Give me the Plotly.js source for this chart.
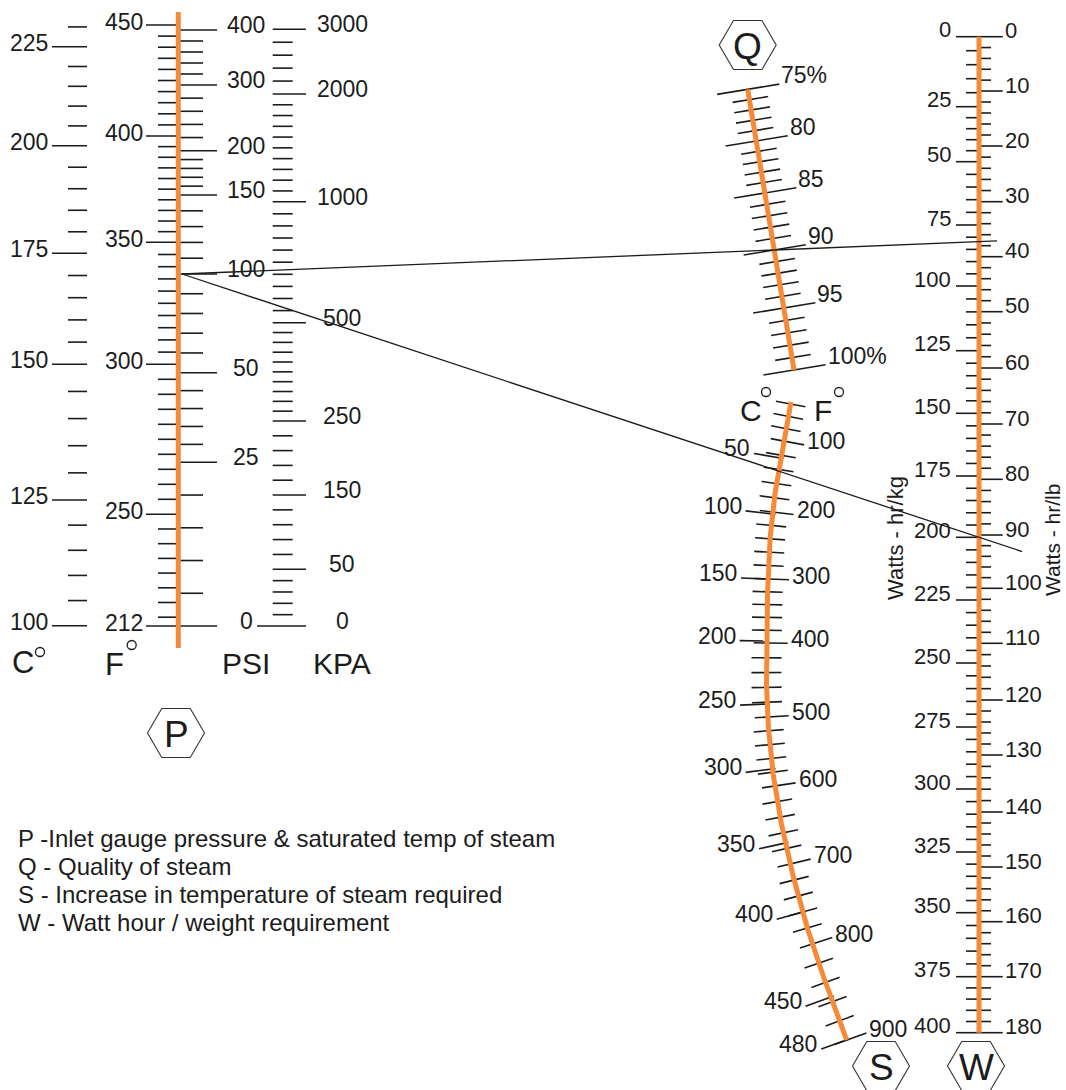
<!DOCTYPE html>
<html>
<head>
<meta charset="utf-8">
<script src="https://cdn.plot.ly/plotly-3.0.1.min.js"></script>
<style>
html,body{margin:0;padding:0;background:#ffffff;}
#chart{width:1066px;height:1090px;}
</style>
</head>
<body>
<div id="chart"></div>
<script>
// ================= DATA =================
// P scale : saturated temperature °C / °F, gauge pressure PSI / KPA
const pC_labels   = [225, 200, 175, 150, 125, 100];
const pC_tickEnds = [230, 100];          // minor ticks every 5 °C
const pC_step     = [5];
const pF_labels   = [450, 400, 350, 300, 250, 212];
const pF_steps    = [5, 5, 5, 5, 5];
const psi_labels  = [400, 300, 200, 150, 100, 50, 25, 0];
const psi_steps   = [20, 20, 10, 10, 10, 5, 5];
const kpa_labels  = [3000, 2000, 1000, 500, 250, 150, 50, 0];
const kpa_steps   = [200, 100, 50, 25, 20, 20, 10];

// Q scale : quality of steam
const q_labels     = [75, 80, 85, 90, 95, 100];
const q_labelTexts = ['75%', '80', '85', '90', '95', '100%'];
const q_step       = 1;

// S scale : increase in temperature (°C left, °F right)
const sC_labels   = [50, 100, 150, 200, 250, 300, 350, 400, 450, 480];
const sF_labels   = [100, 200, 300, 400, 500, 600, 700, 800, 900];
const sF_tickEnds = [40, 880];           // minor ticks every 20 °F
const sF_step     = [20];

// W scale : Watt-hour per weight
const wKg_labels  = [0, 25, 50, 75, 100, 125, 150, 175, 200, 225, 250, 275, 300, 325, 350, 375, 400];
const wKg_step    = 5;
const wLb_labels  = [0, 10, 20, 30, 40, 50, 60, 70, 80, 90, 100, 110, 120, 130, 140, 150, 160, 170, 180];
const wLb_step    = 2;

// Worked example drawn on the nomogram
const examplePsi     = 100;
const exampleQuality = 90;
const exampleWkg     = 200;

// Legend lines
const legendLines = [
  'P -Inlet gauge pressure & saturated temp of steam',
  'Q - Quality of steam',
  'S - Increase in temperature of steam required',
  'W - Watt hour / weight requirement'
];

// ================= SCALE CALIBRATION (page geometry of each nomogram scale) =================
const pC_pos  = [46.7, 145.7, 253.3, 364.3, 500, 625.7];
const pF_pos  = [25, 136, 242.3, 364.3, 514.3, 626];
const psi_pos = [30, 85, 150.7, 195, 274, 372.7, 462.3, 626];
const kpa_pos = [29.3, 94, 201.7, 322.7, 421, 495, 569.3, 626];
const q_pos   = [89.3, 141, 193, 250, 308, 370];
const sC_pos  = [458, 514, 579, 641, 704, 769, 843, 912, 997, 1040];
const sF_cal  = [40, 100, 200, 300, 400, 500, 600, 700, 800, 900];
const sF_pos  = [404, 441, 512, 579, 643, 717, 786, 864, 944, 1040];
const sCurveY = [402, 470, 540, 640, 713, 787, 863, 943, 1041];
const sCurveX = [791, 778.5, 770, 766.7, 767.5, 775, 790, 812, 847];
const wKg_pos = [36.7, 106.7, 161.7, 225, 286, 350.7, 413.3, 476, 537.3, 600, 663, 727, 789, 852, 912.7, 976.7, 1032.7];
const wLb_pos = [36.7, 91, 146, 201.7, 256.7, 311.7, 368, 424, 479.3, 535, 588.3, 643.3, 700, 755, 812, 867, 921.7, 976.7, 1032.7];

// ================= HELPERS =================
function interp(vals, pos, v) {
  const pr = vals.map((a, i) => [a, pos[i]]).sort((a, b) => a[0] - b[0]);
  const n = pr.length;
  let i = 0;
  if (v <= pr[0][0]) i = 0;
  else if (v >= pr[n - 1][0]) i = n - 2;
  else { while (!(v >= pr[i][0] && v <= pr[i + 1][0])) i++; }
  const [a0, b0] = pr[i], [a1, b1] = pr[i + 1];
  return b0 + (v - a0) * (b1 - b0) / (a1 - a0);
}
function stepTicks(ends, steps) {
  const out = [];
  for (let i = 0; i < ends.length - 1; i++) {
    const a = ends[i], b = ends[i + 1], s = steps[i] * Math.sign(b - a);
    for (let v = a; s > 0 ? v < b - 1e-9 : v > b + 1e-9; v += s) out.push(+v.toFixed(6));
  }
  out.push(ends[ends.length - 1]);
  return out;
}
function rangeTicks(a, b, s) { return stepTicks([a, b], [s]); }

// Hermite interpolation for the curved S scale: x as function of y
function sSlopes() {
  const n = sCurveY.length, m = [];
  for (let i = 0; i < n; i++) {
    if (i === 0) m.push((sCurveX[1] - sCurveX[0]) / (sCurveY[1] - sCurveY[0]));
    else if (i === n - 1) m.push((sCurveX[n - 1] - sCurveX[n - 2]) / (sCurveY[n - 1] - sCurveY[n - 2]));
    else m.push((sCurveX[i + 1] - sCurveX[i - 1]) / (sCurveY[i + 1] - sCurveY[i - 1]));
  }
  return m;
}
const sM = sSlopes();
function sX(y) {
  const n = sCurveY.length;
  let i = 0;
  if (y <= sCurveY[0]) i = 0;
  else if (y >= sCurveY[n - 1]) i = n - 2;
  else { while (!(y >= sCurveY[i] && y <= sCurveY[i + 1])) i++; }
  const h = sCurveY[i + 1] - sCurveY[i], t = (y - sCurveY[i]) / h;
  const t2 = t * t, t3 = t2 * t;
  return (2 * t3 - 3 * t2 + 1) * sCurveX[i] + (t3 - 2 * t2 + t) * h * sM[i]
       + (-2 * t3 + 3 * t2) * sCurveX[i + 1] + (t3 - t2) * h * sM[i + 1];
}
function sNormal(y) {
  const d = (sX(y + 0.5) - sX(y - 0.5));
  const L = Math.hypot(1, d);
  return [1 / L, -d / L];
}

const INK = '#1c1c1c';
const ORANGE = '#F68A38';
const FONT = 'Liberation Sans, Arial, Helvetica, sans-serif';
const LAB = 23;

const tickX = [], tickY = [];
function seg(x0, y0, x1, y1) { tickX.push(x0, x1, null); tickY.push(y0, y1, null); }

const ann = [];
function lab(text, x, y, xanchor, size, extra) {
  ann.push(Object.assign({
    text: text, x: x, y: y, xref: 'x', yref: 'y', xanchor: xanchor, yanchor: 'middle',
    showarrow: false, borderpad: 0, font: { family: FONT, size: size, color: INK }
  }, extra || {}));
}

// ================= P SCALE =================
const yPC  = v => interp(pC_labels, pC_pos, v);
const yPF  = v => interp(pF_labels, pF_pos, v);
const yPSI = v => interp(psi_labels, psi_pos, v);
const yKPA = v => interp(kpa_labels, kpa_pos, v);
const P_X = 178.3;

stepTicks(pC_tickEnds, pC_step).forEach(v => {
  const major = pC_labels.includes(v);
  seg(major ? 52 : 68, yPC(v), 87, yPC(v));
});
pC_labels.forEach(v => lab(String(v), 49, yPC(v) - 4, 'right', LAB));

stepTicks(pF_labels, pF_steps).forEach(v => {
  const major = pF_labels.includes(v);
  seg(major ? 146 : 158, yPF(v), P_X, yPF(v));
});
pF_labels.forEach(v => lab(String(v), 144, yPF(v) - 3, 'right', LAB));

stepTicks(psi_labels, psi_steps).forEach(v => {
  const major = psi_labels.includes(v);
  seg(P_X, yPSI(v), major ? 217 : 203, yPSI(v));
});
psi_labels.forEach(v => lab(String(v), 246, yPSI(v) - 5, 'center', LAB));

stepTicks(kpa_labels, kpa_steps).forEach(v => {
  const major = kpa_labels.includes(v);
  seg(v === 0 ? 257 : 272.7, yKPA(v), major ? 306 : 292.7, yKPA(v));
});
kpa_labels.forEach(v => lab(String(v), 342, yKPA(v) - 5, 'center', LAB));

// ================= Q SCALE =================
const Q_SLOPE = 0.165;
const yQ = v => interp(q_labels, q_pos, v);
const xQ = y => 747.7 + (y - q_pos[0]) * Q_SLOPE;
const qN = [1 / Math.hypot(1, Q_SLOPE), -Q_SLOPE / Math.hypot(1, Q_SLOPE)];
rangeTicks(q_labels[0], q_labels[q_labels.length - 1], q_step).forEach(v => {
  const major = q_labels.includes(v);
  const y = yQ(v), x = xQ(y);
  const a = major ? -31 : -17, b = major ? 32 : 19;
  seg(x + a * qN[0], y + a * qN[1], x + b * qN[0], y + b * qN[1]);
});
q_labels.forEach((v, i) => {
  const y = yQ(v), x = xQ(y);
  lab(q_labelTexts[i], x + 32 * qN[0] + 1, y + 32 * qN[1] - 9, 'left', LAB);
});

// ================= S SCALE =================
const ySC = v => interp(sC_labels, sC_pos, v);
const ySF = v => interp(sF_cal, sF_pos, v);
rangeTicks(sF_tickEnds[0], sF_tickEnds[1], sF_step[0]).forEach(v => {
  if (sF_labels.includes(v)) return;
  const y = ySF(v), x = sX(y), n = sNormal(y);
  seg(x - 15 * n[0], y - 15 * n[1], x + 15 * n[0], y + 15 * n[1]);
});
sF_labels.forEach(v => {
  const y = ySF(v), x = sX(y), n = sNormal(y);
  seg(x - 13 * n[0], y - 13 * n[1], x + 21 * n[0], y + 21 * n[1]);
  lab(String(v), x + 21 * n[0] + 2, y + 21 * n[1] - 4, 'left', LAB);
});
sC_labels.forEach(v => {
  const y = ySC(v), x = sX(y), n = sNormal(y);
  seg(x - 27 * n[0], y - 27 * n[1], x + 3 * n[0], y + 3 * n[1]);
  lab(String(v), x - 27 * n[0] - 3, y - 27 * n[1] - 5, 'right', LAB);
});

// ================= W SCALE =================
const W_X = 979;
const yKg = v => interp(wKg_labels, wKg_pos, v);
const yLb = v => interp(wLb_labels, wLb_pos, v);
rangeTicks(wKg_labels[0], wKg_labels[wKg_labels.length - 1], wKg_step).forEach(v => {
  const major = wKg_labels.includes(v);
  seg(major ? 956 : 966, yKg(v), W_X, yKg(v));
});
wKg_labels.forEach(v => lab(String(v), 952, yKg(v) - 7, 'right', 22));
rangeTicks(wLb_labels[0], wLb_labels[wLb_labels.length - 1], wLb_step).forEach(v => {
  const major = wLb_labels.includes(v);
  seg(W_X, yLb(v), major ? 1002.7 : 991, yLb(v));
});
wLb_labels.forEach(v => lab(String(v), 1004, yLb(v) - 6, 'left', 22));

// ================= TRACES =================
const traces = [];
traces.push({ type: 'scatter', mode: 'lines', x: tickX, y: tickY,
  line: { color: INK, width: 1.6 }, hoverinfo: 'skip', showlegend: false });

// orange scale lines
const sYs = [], sXs = [];
for (let y = sCurveY[0]; y <= sCurveY[sCurveY.length - 1] + 1e-6; y += 2) { sYs.push(y); sXs.push(sX(y)); }
const orange = [
  { x: [P_X, P_X], y: [12, 648] },
  { x: [xQ(q_pos[0]), xQ(q_pos[q_pos.length - 1])], y: [q_pos[0], q_pos[q_pos.length - 1]] },
  { x: sXs, y: sYs },
  { x: [W_X, W_X], y: [wKg_pos[0], wKg_pos[wKg_pos.length - 1]] }
];
orange.forEach(o => traces.push({ type: 'scatter', mode: 'lines', x: o.x, y: o.y,
  line: { color: ORANGE, width: 5 }, hoverinfo: 'skip', showlegend: false }));

// worked example lines
const pY = yPSI(examplePsi), pX = 182;
const qY = yQ(exampleQuality), qX = xQ(qY);
const l1End = 997;
const l1Y = pY + (l1End - pX) * (qY - pY) / (qX - pX);
const wY = yKg(exampleWkg);
const l2End = 1022;
const l2Y = pY + (l2End - pX) * (wY - pY) / (W_X - pX);
traces.push({ type: 'scatter', mode: 'lines', x: [pX, l1End, null, pX, l2End], y: [pY, l1Y, null, pY, l2Y],
  line: { color: INK, width: 1.3 }, hoverinfo: 'skip', showlegend: false });

// ================= SHAPES (hexagon badges, degree marks) =================
const shapes = [];
function hexagon(cx, cy, letter) {
  const w = 57, h = 49;
  const p = [[cx - w / 2, cy], [cx - w / 4, cy - h / 2], [cx + w / 4, cy - h / 2], [cx + w / 2, cy],
             [cx + w / 4, cy + h / 2], [cx - w / 4, cy + h / 2]];
  shapes.push({ type: 'path', xref: 'x', yref: 'y',
    path: 'M' + p.map(q => q[0] + ',' + q[1]).join('L') + 'Z',
    line: { color: '#333333', width: 1.1 } });
  lab(letter, cx, cy + 1, 'center', 37);
}
hexagon(747.7, 45, 'Q');
hexagon(176, 733, 'P');
hexagon(881, 1066, 'S');
hexagon(976, 1066, 'W');

function degree(cx, cy) {
  shapes.push({ type: 'circle', xref: 'x', yref: 'y', x0: cx - 4.5, x1: cx + 4.5, y0: cy - 4.5, y1: cy + 4.5,
    line: { color: INK, width: 1.3 } });
}
// axis captions
lab('C', 22.5, 662, 'center', 31); degree(40, 652);
lab('F', 114.5, 664, 'center', 31); degree(131.7, 645);
lab('PSI', 246, 663, 'center', 30);
lab('KPA', 342, 663, 'center', 30);
lab('C', 751, 410, 'center', 30); degree(766, 392);
lab('F', 823, 410, 'center', 30); degree(839, 392);
lab('Watts - hr/kg', 895, 538, 'center', 22, { textangle: -90 });
lab('Watts - hr/lb', 1052, 540, 'center', 21, { textangle: -90 });

// legend
legendLines.forEach((t, i) => lab(t, 17, 838 + i * 28, 'left', 24));

const layout = {
  width: 1066, height: 1090,
  margin: { l: 0, r: 0, t: 0, b: 0, pad: 0 },
  paper_bgcolor: '#ffffff', plot_bgcolor: '#ffffff',
  xaxis: { range: [0, 1066], visible: false, fixedrange: true },
  yaxis: { range: [1090, 0], visible: false, fixedrange: true },
  showlegend: false,
  shapes: shapes,
  annotations: ann
};
Plotly.newPlot('chart', traces, layout, { staticPlot: true, displayModeBar: false });
</script>
</body>
</html>
